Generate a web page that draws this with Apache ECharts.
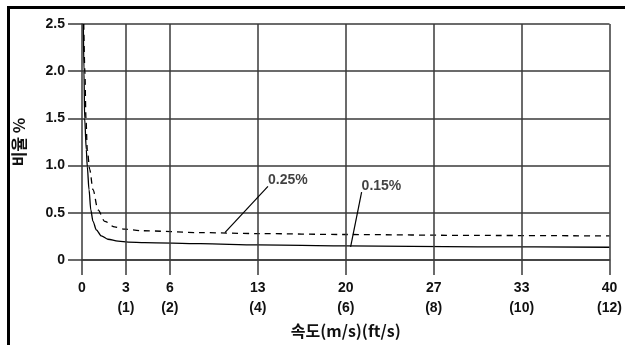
<!DOCTYPE html>
<html>
<head>
<meta charset="utf-8">
<script src="https://cdn.jsdelivr.net/npm/echarts@6/dist/echarts.min.js"></script>
<style>
  html, body { margin: 0; padding: 0; background: #fff; }
  #wrap { position: relative; width: 625px; height: 345px; overflow: hidden; }
  #frame { position: absolute; left: 7px; top: 6px; right: -10px; bottom: -10px;
           border-left: 3px solid #000; border-top: 3px solid #000; }
  #chart { position: absolute; left: 0; top: 0; width: 625px; height: 345px; }
</style>
</head>
<body>
<div id="wrap">
  <div id="frame"></div>
  <div id="chart"></div>
</div>
<script>
// Axis ticks: speed in ft/s along the axis, m/s shown in parentheses
const xTickValues = [0, 1, 2, 4, 6, 8, 10, 12];
const xTickTop = ['0', '3', '6', '13', '20', '27', '33', '40'];
const xTickBottom = ['', '(1)', '(2)', '(4)', '(6)', '(8)', '(10)', '(12)'];
const yMin = 0, yMax = 2.5, yStep = 0.5;

// 0.15% curve (solid)
const speed015 = [0.03, 0.045, 0.06, 0.098, 0.12, 0.16, 0.2, 0.25, 0.325, 0.44, 0.59, 0.82, 1.05, 1.43, 2.7, 4, 6, 9, 12];
const ratio015 = [2.5, 2.0, 1.5, 1.17, 0.99, 0.745, 0.53, 0.41, 0.32, 0.255, 0.22, 0.2, 0.19, 0.185, 0.173, 0.16, 0.15, 0.14, 0.135];

// 0.25% curve (dashed)
const speed025 = [0.04, 0.065, 0.09, 0.12, 0.175, 0.25, 0.364, 0.515, 0.74, 0.97, 1.35, 2.7, 4, 6, 9, 12];
const ratio025 = [2.5, 2.0, 1.5, 1.17, 0.96, 0.745, 0.53, 0.41, 0.35, 0.327, 0.31, 0.29, 0.28, 0.27, 0.26, 0.255];

// Callout labels: text, anchor on the curve, label end of the leader
const calloutText = ['0.25%', '0.15%'];
const calloutFrom = [[3.25, 0.29], [6.11, 0.14]];
const calloutTo = [[4.23, 0.78], [6.36, 0.72]];

const numFont = '"Liberation Sans Narrow", "Liberation Sans", Arial, sans-serif';
const krFont = '"Noto Sans CJK KR", "Noto Sans", sans-serif';
const gridColor = '#3a3a3a';

const zip = (xs, ys) => xs.map((x, i) => [x, ys[i]]);

const chart = echarts.init(document.getElementById('chart'), null, { renderer: 'canvas' });

chart.setOption({
  backgroundColor: 'transparent',
  animation: false,
  grid: { left: 82, right: 15, top: 24, bottom: 85, containLabel: false },
  xAxis: {
    type: 'value',
    min: 0, max: 12,
    name: '속도(m/s)(ft/s)',
    nameLocation: 'middle',
    nameGap: 58,
    nameTextStyle: { fontFamily: krFont, fontWeight: 'bold', fontSize: 16, color: '#111' },
    axisLine: { show: true, lineStyle: { color: gridColor, width: 1.5 } },
    axisTick: { show: true, customValues: xTickValues, length: 15, inside: false,
                lineStyle: { color: gridColor, width: 1.5 } },
    axisLabel: {
      customValues: xTickValues,
      margin: 18,
      lineHeight: 20,
      fontFamily: numFont, fontWeight: 'bold', fontSize: 14, color: '#111',
      formatter: v => {
        const i = xTickValues.indexOf(v);
        if (i < 0) return '';
        return xTickBottom[i] ? xTickTop[i] + '\n' + xTickBottom[i] : xTickTop[i];
      }
    },
    splitLine: { show: false }
  },
  yAxis: {
    type: 'value',
    min: yMin, max: yMax, interval: yStep,
    name: '비율 %',
    nameLocation: 'middle',
    nameGap: 55,
    nameRotate: 90,
    nameTextStyle: { fontFamily: krFont, fontWeight: 'bold', fontSize: 16, color: '#111' },
    axisLine: { show: true, lineStyle: { color: gridColor, width: 1.5 } },
    axisTick: { show: true, length: 14, lineStyle: { color: gridColor, width: 1.5 } },
    axisLabel: {
      margin: 17,
      fontFamily: numFont, fontWeight: 'bold', fontSize: 14, color: '#111',
      formatter: v => v === 0 ? '0' : v.toFixed(1)
    },
    splitLine: { show: true, lineStyle: { color: gridColor, width: 1.5 } }
  },
  series: [
    {
      // vertical grid lines at the custom x ticks
      type: 'line',
      data: [],
      silent: true,
      markLine: {
        silent: true,
        symbol: 'none',
        label: { show: false },
        lineStyle: { color: gridColor, width: 1.5, type: 'solid' },
        data: xTickValues.slice(1).map(v => ({ xAxis: v }))
      }
    },
    {
      name: '0.15%',
      type: 'line',
      data: zip(speed015, ratio015),
      smooth: 0.3,
      smoothMonotone: 'x',
      showSymbol: false,
      lineStyle: { color: '#000', width: 1.3, type: 'solid' },
      markLine: {
        silent: true, symbol: 'none', label: { show: false },
        lineStyle: { color: '#000', width: 1.2, type: 'solid' },
        data: [[{ coord: calloutFrom[1] }, { coord: calloutTo[1] }]]
      }
    },
    {
      name: '0.25%',
      type: 'line',
      data: zip(speed025, ratio025),
      smooth: 0.3,
      smoothMonotone: 'x',
      showSymbol: false,
      lineStyle: { color: '#000', width: 1.3, type: [6, 5] },
      markLine: {
        silent: true, symbol: 'none', label: { show: false },
        lineStyle: { color: '#000', width: 1.2, type: 'solid' },
        data: [[{ coord: calloutFrom[0] }, { coord: calloutTo[0] }]]
      }
    },
    {
      type: 'scatter',
      symbolSize: 0,
      silent: true,
      data: calloutTo.map((c, i) => ({ value: c, name: calloutText[i] })),
      label: {
        show: true,
        position: 'right',
        distance: 0,
        offset: [0, -6],
        formatter: p => p.name,
        fontFamily: numFont, fontWeight: 'bold', fontSize: 14, color: '#111'
      }
    }
  ]
});
</script>
</body>
</html>
